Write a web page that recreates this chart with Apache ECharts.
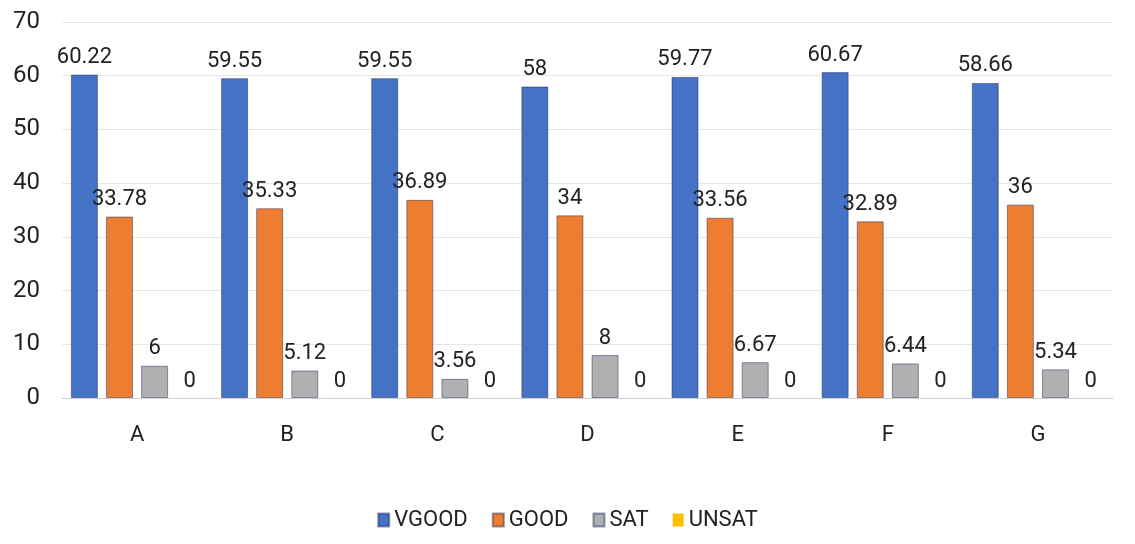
<!DOCTYPE html>
<html><head><meta charset="utf-8">
<script src="https://cdn.jsdelivr.net/npm/echarts@6/dist/echarts.min.js"></script>
<style>html,body{margin:0;padding:0;background:#fff}#c{width:1135px;height:544px}</style>
</head><body><div id="c"></div>
<script>
const categories = ['A','B','C','D','E','F','G'];
const vgood = [60.22, 59.55, 59.55, 58, 59.77, 60.67, 58.66];
const good = [33.78, 35.33, 36.89, 34, 33.56, 32.89, 36];
const sat = [6, 5.12, 3.56, 8, 6.67, 6.44, 5.34];
const unsat = [0, 0, 0, 0, 0, 0, 0];
const yTicks = [0, 10, 20, 30, 40, 50, 60, 70];

const FONT = "Roboto, 'Liberation Sans Narrow', sans-serif";
const lbl = {show:true, position:'top', color:'#222', fontSize:22, fontFamily:FONT, distance:6};
function s(name, data, color, bw){
  return {name, type:'bar', data, barWidth:27, barGap:'30%',
    itemStyle:{color, borderColor:'rgba(20,30,80,0.45)', borderWidth:bw}, label:lbl};
}
const chart = echarts.init(document.getElementById('c'));
chart.setOption({
  animation:false,
  textStyle:{fontFamily:FONT},
  grid:{left:62, right:22, top:22, bottom:146},
  legend:{bottom:8, left:'center', itemWidth:11, itemHeight:13, itemGap:24, icon:'rect',
    textStyle:{fontSize:22, color:'#222', fontFamily:FONT}},
  xAxis:{type:'category', data:categories, axisTick:{show:false},
    axisLine:{lineStyle:{color:'#d0d0d0'}},
    axisLabel:{fontSize:22, color:'#222', margin:26, fontFamily:FONT}},
  yAxis:{type:'value', min:0, max:70, interval:10,
    axisLabel:{fontSize:24, color:'#222', fontFamily:FONT, margin:22, formatter:v=>yTicks.includes(v)?String(v):''},
    splitLine:{lineStyle:{color:'#e6e6e6'}}},
  series:[
    s('VGOOD', vgood, '#4472C4', 1),
    s('GOOD', good, '#ED7D31', 1),
    s('SAT', sat, '#B0B0B0', 1),
    s('UNSAT', unsat, '#FFC000', 0)
  ]
});
</script></body></html>
